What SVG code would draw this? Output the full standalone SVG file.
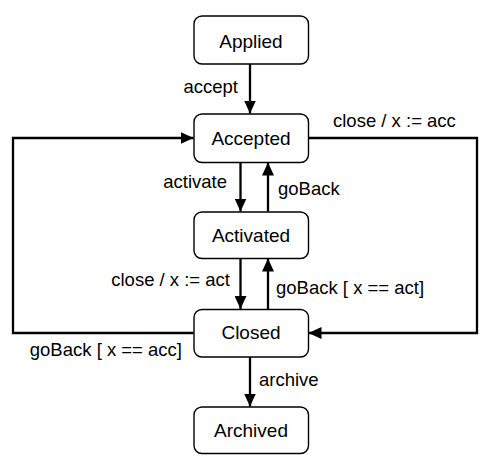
<svg xmlns="http://www.w3.org/2000/svg" width="489" height="465" viewBox="0 0 489 465">
  <style>
    .node rect { fill: #ffffff; stroke: #000000; stroke-width: 1.4; }
    .node text { font-family: "Liberation Sans", Arial, sans-serif; font-size: 19px; fill: #000000; text-anchor: middle; }
    .edge { fill: none; stroke: #000000; stroke-width: 2.3; marker-end: url(#arrow); }
    .lbl { font-family: "Liberation Sans", Arial, sans-serif; font-size: 18.5px; fill: #000000; }
    .end { text-anchor: end; }
  </style>
  <defs>
    <marker id="arrow" markerUnits="userSpaceOnUse" markerWidth="14" markerHeight="12" refX="13" refY="6" orient="auto">
      <path d="M0,0 L13,6 L0,12 Z" fill="#000000"/>
    </marker>
  </defs>
  <rect width="489" height="465" fill="#ffffff"/>

  <g id="connectors">
    <path class="edge" d="M250,64 L250,113.5"/>
    <path class="edge" d="M240.5,162.5 L240.5,211.5"/>
    <path class="edge" d="M268,211.5 L268,162.5"/>
    <path class="edge" d="M240.5,258.5 L240.5,309"/>
    <path class="edge" d="M268,309 L268,258.5"/>
    <path class="edge" d="M250,357 L250,406.5"/>
    <path class="edge" d="M193.5,333 L13,333 L13,138 L193.5,138"/>
    <path class="edge" d="M308.5,138 L477,138 L477,333 L308.5,333"/>
    <text class="lbl end" x="238" y="93">accept</text>
    <text class="lbl" x="333" y="127">close / x := acc</text>
    <text class="lbl end" x="227" y="188">activate</text>
    <text class="lbl" x="278" y="195">goBack</text>
    <text class="lbl end" x="230" y="286">close / x := act</text>
    <text class="lbl" x="276" y="293.5">goBack [ x == act]</text>
    <text class="lbl end" x="182" y="356">goBack [ x == acc]</text>
    <text class="lbl" x="259" y="385.5">archive</text>
  </g>

  <g id="applied" class="node">
    <rect x="194" y="16" width="114.5" height="48" rx="8"/>
    <text x="251" y="47.5">Applied</text>
  </g>
  <g id="accepted" class="node">
    <rect x="194" y="114" width="114.5" height="48.5" rx="8"/>
    <text x="251" y="145">Accepted</text>
  </g>
  <g id="activated" class="node">
    <rect x="194" y="212" width="114.5" height="46.5" rx="8"/>
    <text x="251" y="242">Activated</text>
  </g>
  <g id="closed" class="node">
    <rect x="194" y="309.5" width="114.5" height="47.5" rx="8"/>
    <text x="251" y="338.5">Closed</text>
  </g>
  <g id="archived" class="node">
    <rect x="194" y="407" width="114.5" height="46.5" rx="8"/>
    <text x="251" y="437">Archived</text>
  </g>
</svg>
